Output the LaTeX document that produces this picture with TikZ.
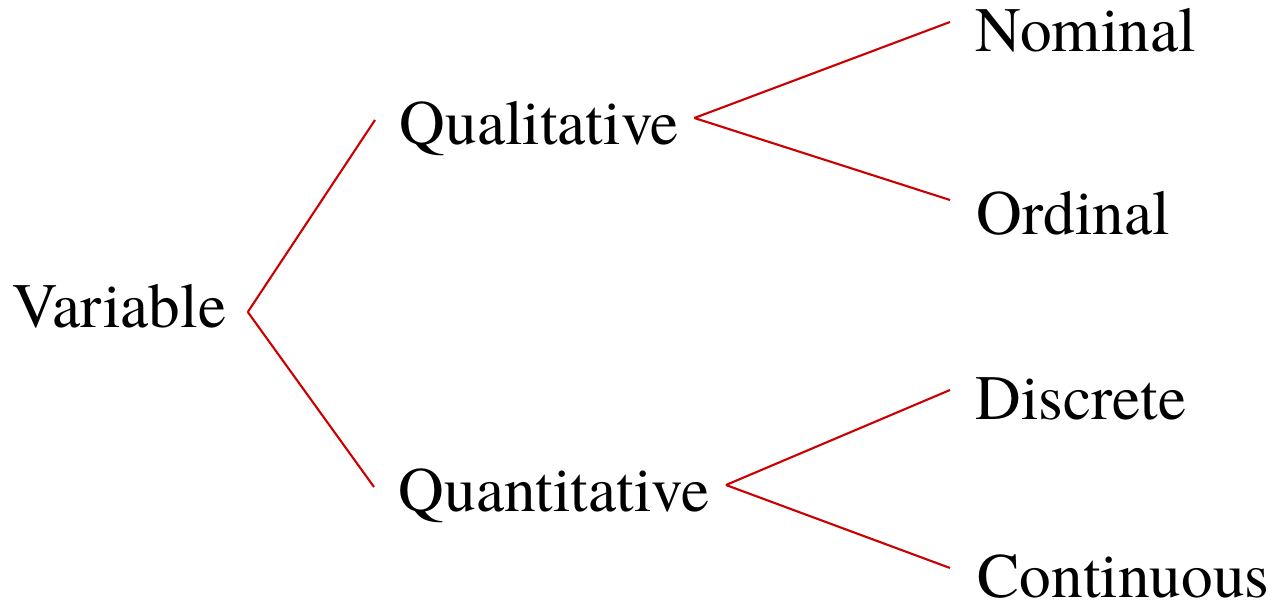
\documentclass[tikz,border=0pt]{standalone}
\usepackage{fontspec}
\newfontfamily\treefont{TeX Gyre Termes}
\usetikzlibrary{positioning}
\definecolor{branchred}{RGB}{204,0,0}

\begin{document}
\begin{tikzpicture}[
        label/.style={anchor=base west, inner ysep=0pt, inner xsep=0.22cm, text height=0.54cm, text depth=0pt, font=\treefont\fontsize{18}{21}\selectfont},
        branch/.style={draw=branchred, line width=0.6pt}
    ]
        \useasboundingbox (0,0) rectangle (12.76,-6.10);
        % root
        \node[label] (var) at (-0.10,-3.28) {Variable};
        % first level
        \node[label] (qual) at (3.77,-1.45) {Qualitative};
        \node[label] (quant) at (3.76,-5.12) {Quantitative};
        % second level
        \node[label] (nom) at (9.53,-0.52) {Nominal};
        \node[label] (ord) at (9.54,-2.35) {Ordinal};
        \node[label] (disc) at (9.53,-4.20) {Discrete};
        \node[label] (cont) at (9.55,-5.98) {Continuous};

        \draw[branch] ([xshift=-0.01cm,yshift=-0.11cm]var.east) -- ([xshift=-0.02cm,yshift=-0.02cm]qual.west);
        \draw[branch] ([xshift=-0.01cm,yshift=-0.11cm]var.east) -- ([xshift=-0.02cm,yshift=-0.02cm]quant.west);
        \draw[branch] ([xshift=-0.07cm]qual.east) -- ([xshift=-0.03cm,yshift=0.03cm]nom.west);
        \draw[branch] ([xshift=-0.07cm]qual.east) -- ([xshift=-0.04cm,yshift=0.08cm]ord.west);
        \draw[branch] ([xshift=-0.06cm]quant.east) -- ([xshift=-0.03cm,yshift=0.03cm]disc.west);
        \draw[branch] ([xshift=-0.06cm]quant.east) -- ([xshift=-0.05cm,yshift=0.03cm]cont.west);
    \end{tikzpicture}
\end{document}
